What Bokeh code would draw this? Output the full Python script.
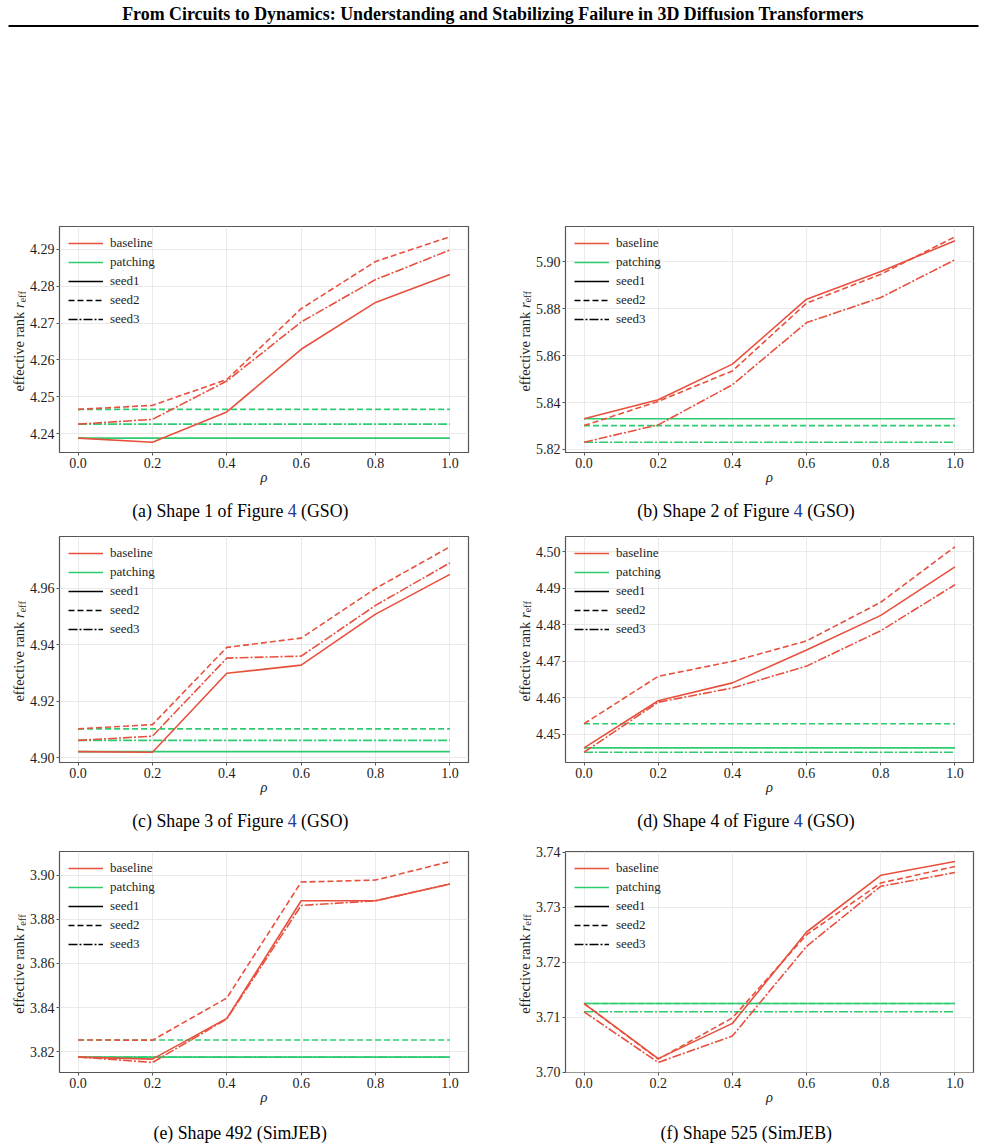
import math

from bokeh.core.properties import value
from bokeh.embed import file_html
from bokeh.layouts import column, row
from bokeh.models import FixedTicker, Legend, LegendItem, PrintfTickFormatter, Range1d
from bokeh.plotting import figure
from bokeh.resources import INLINE

# ---------------------------------------------------------------- data
RHO = [0.0, 0.2, 0.4, 0.6, 0.8, 1.0]

# (a) Shape 1 of Figure 4 (GSO)
A_BASE_SEED1 = [4.2388, 4.2377, 4.2459, 4.2629, 4.2756, 4.2832]
A_BASE_SEED2 = [4.2466, 4.2477, 4.2547, 4.2739, 4.2867, 4.2934]
A_BASE_SEED3 = [4.2426, 4.2439, 4.2543, 4.2703, 4.2818, 4.2898]
A_PATCH = [4.2388, 4.2466, 4.2426]          # seed1, seed2, seed3
A_YTICKS = [4.24, 4.25, 4.26, 4.27, 4.28, 4.29]

# (b) Shape 2 of Figure 4 (GSO)
B_BASE_SEED1 = [5.8331, 5.8412, 5.8564, 5.8841, 5.8959, 5.9090]
B_BASE_SEED2 = [5.8302, 5.8405, 5.8535, 5.8824, 5.8947, 5.9107]
B_BASE_SEED3 = [5.8231, 5.8305, 5.8476, 5.8741, 5.8848, 5.9009]
B_PATCH = [5.8331, 5.8302, 5.8231]
B_YTICKS = [5.82, 5.84, 5.86, 5.88, 5.90]

# (c) Shape 3 of Figure 4 (GSO)
C_BASE_SEED1 = [4.9021, 4.9019, 4.9299, 4.9328, 4.9509, 4.9650]
C_BASE_SEED2 = [4.9102, 4.9117, 4.9391, 4.9424, 4.9600, 4.9748]
C_BASE_SEED3 = [4.9061, 4.9076, 4.9353, 4.9360, 4.9540, 4.9691]
C_PATCH = [4.9021, 4.9102, 4.9061]
C_YTICKS = [4.90, 4.92, 4.94, 4.96]

# (d) Shape 4 of Figure 4 (GSO)
D_BASE_SEED1 = [4.4463, 4.4592, 4.4641, 4.4731, 4.4826, 4.4959]
D_BASE_SEED2 = [4.4529, 4.4659, 4.4700, 4.4756, 4.4862, 4.5014]
D_BASE_SEED3 = [4.4451, 4.4588, 4.4627, 4.4687, 4.4784, 4.4910]
D_PATCH = [4.4463, 4.4529, 4.4451]
D_YTICKS = [4.45, 4.46, 4.47, 4.48, 4.49, 4.50]

# (e) Shape 492 (SimJEB)
E_BASE_SEED1 = [3.8175, 3.8166, 3.8351, 3.8884, 3.8884, 3.8960]
E_BASE_SEED2 = [3.8253, 3.8252, 3.8443, 3.8969, 3.8978, 3.9062]
E_BASE_SEED3 = [3.8176, 3.8151, 3.8348, 3.8863, 3.8884, 3.8960]
E_PATCH = [3.8175, 3.8253, 3.8176]
E_YTICKS = [3.82, 3.84, 3.86, 3.88, 3.90]

# (f) Shape 525 (SimJEB)
F_BASE_SEED1 = [3.7125, 3.7025, 3.7089, 3.7255, 3.7358, 3.7383]
F_BASE_SEED2 = [3.7125, 3.7024, 3.7099, 3.7250, 3.7344, 3.7374]
F_BASE_SEED3 = [3.7110, 3.7018, 3.7066, 3.7229, 3.7338, 3.7363]
F_PATCH = [3.7125, 3.7125, 3.7110]
F_YTICKS = [3.70, 3.71, 3.72, 3.73, 3.74]

SEED_NAMES = ["seed1", "seed2", "seed3"]
METHOD_NAMES = ["baseline", "patching"]

PAGE_TITLE = ("From Circuits to Dynamics: Understanding and Stabilizing "
              "Failure in 3D Diffusion Transformers")
CAPTIONS = [
    ("(a) Shape 1 of Figure", "4", "(GSO)"),
    ("(b) Shape 2 of Figure", "4", "(GSO)"),
    ("(c) Shape 3 of Figure", "4", "(GSO)"),
    ("(d) Shape 4 of Figure", "4", "(GSO)"),
    ("(e) Shape 492 (SimJEB)", None, None),
    ("(f) Shape 525 (SimJEB)", None, None),
]

# ---------------------------------------------------------------- style
FONT = "Liberation Serif"
SERIF = value(FONT)
RED = "#E8503E"
GREEN = "#2ECC71"
FRAME = "#555555"
INK = "#1e1e1e"
LINK = "#23399a"
DASHES = ["solid", "6 3", "9 2 2 2"]
LW = 1.6
NAN = float("nan")


def blank(w, h, y_range=None):
    """A plain drawing surface measured in pixels (y grows downward by default)."""
    yr = y_range if y_range is not None else Range1d(h, 0)
    c = figure(width=w, height=h, x_range=Range1d(0, w), y_range=yr,
               x_axis_type=None, y_axis_type=None, title=None,
               output_backend="svg", toolbar_location=None,
               min_border_left=0, min_border_right=0,
               min_border_top=0, min_border_bottom=0)
    c.outline_line_color = None
    c.background_fill_color = "white"
    c.border_fill_color = "white"
    return c


def make_panel(base, patch, yticks, width, bl, br, bt, fh, bb=38):
    values = [v for s in base for v in s] + list(patch)
    lo, hi = min(values), max(values)
    pad = 0.05 * (hi - lo)
    p = figure(width=width, height=bt + fh + bb,
               x_range=Range1d(-0.05, 1.05), y_range=Range1d(lo - pad, hi + pad),
               title=None, output_backend="svg", toolbar_location=None,
               min_border_left=bl, min_border_right=br,
               min_border_top=bt, min_border_bottom=bb)
    p.background_fill_color = "white"
    p.border_fill_color = "white"
    p.outline_line_color = FRAME
    p.outline_line_width = 1.2

    p.xaxis.ticker = FixedTicker(ticks=RHO)
    p.xaxis.formatter = PrintfTickFormatter(format="%.1f")
    p.yaxis.ticker = FixedTicker(ticks=yticks)
    p.yaxis.formatter = PrintfTickFormatter(format="%.2f")
    p.xgrid.ticker = FixedTicker(ticks=RHO)
    p.ygrid.ticker = FixedTicker(ticks=yticks)
    p.grid.grid_line_color = "#e8e8e8"
    p.grid.grid_line_width = 0.9

    for ax in (p.xaxis, p.yaxis):
        ax.axis_line_color = None
        ax.major_tick_in = 0
        ax.major_tick_out = 3
        ax.major_tick_line_color = FRAME
        ax.minor_tick_line_color = None
        ax.major_label_text_font = FONT
        ax.major_label_text_font_size = "14px"
        ax.major_label_text_color = INK
        ax.major_label_standoff = 2
    p.xaxis.axis_label = "ρ"
    p.xaxis.axis_label_text_font = FONT
    p.xaxis.axis_label_text_font_style = "italic"
    p.xaxis.axis_label_text_font_size = "14.5px"
    p.xaxis.axis_label_text_color = INK
    p.xaxis.axis_label_standoff = -2

    patch_lines = []
    for v, dash in zip(patch, DASHES):
        r = p.line([RHO[0], RHO[-1]], [v, v], line_color=GREEN, line_width=LW, line_dash=dash)
        patch_lines.append(r)
    base_lines = []
    for series, dash in zip(base, DASHES):
        r = p.line(RHO, series, line_color=RED, line_width=LW, line_dash=dash)
        base_lines.append(r)

    # legend swatches for the seeds use neutral black (one undrawable point each)
    seed_keys = [p.line([NAN], [NAN], line_color="black", line_width=LW, line_dash=dash)
                 for dash in DASHES]
    items = [LegendItem(label=METHOD_NAMES[0], renderers=[base_lines[0]]),
             LegendItem(label=METHOD_NAMES[1], renderers=[patch_lines[0]])]
    items += [LegendItem(label=n, renderers=[k]) for n, k in zip(SEED_NAMES, seed_keys)]
    legend = Legend(items=items, location="top_left", margin=9, padding=0,
                    spacing=3, glyph_width=35, glyph_height=14, label_height=14,
                    label_standoff=7, border_line_color=None,
                    background_fill_alpha=0.0,
                    label_text_font=FONT, label_text_font_size="13px",
                    label_text_color=INK)
    p.add_layout(legend)
    return p


def make_ylabel(w, h, cx, fh):
    # inside a row this surface's frame lines up with the neighbouring plot frame,
    # so its vertical range spans that frame (0 at the bottom)
    c = blank(w, h, y_range=Range1d(0, fh))
    big, small = 14.5, 10.5
    w_main, w_space, w_r, w_sub = 80.1, 3.6, 5.6, 11.1
    total = w_main + w_space + w_r + w_sub
    y0 = fh / 2 - 2 - total / 2                  # lower end of the rotated label
    rot = dict(angle=math.pi / 2, text_align="center", text_baseline="middle",
               text_font=SERIF, text_color=INK)
    c.text(x=[cx], y=[y0 + w_main / 2], text=["effective rank"],
           text_font_size=f"{big}px", **rot)
    c.text(x=[cx], y=[y0 + w_main + w_space + w_r / 2], text=["r"],
           text_font_style="italic", text_font_size=f"{big}px", **rot)
    c.text(x=[cx + 3], y=[y0 + w_main + w_space + w_r + w_sub / 2], text=["eff"],
           text_font_size=f"{small}px", **rot)
    return c


def make_captions(h, cy, pair):
    c = blank(985, h)
    for cap, x4 in zip(pair, (291.7, 797.8)):
        head, num, tail = cap
        if num is None:
            c.text(x=[x4 - 52], y=[cy], text=[head], text_align="center",
                   text_baseline="middle", text_font=SERIF,
                   text_font_size="17.8px", text_color="black")
            continue
        c.text(x=[x4 - 8.9], y=[cy], text=[head], text_align="right",
               text_baseline="middle", text_font=SERIF, text_font_size="17.8px",
               text_color="black")
        c.text(x=[x4], y=[cy], text=[num], text_align="center",
               text_baseline="middle", text_font=SERIF, text_font_size="17.8px",
               text_color=LINK)
        c.text(x=[x4 + 8.9], y=[cy], text=[tail], text_align="left",
               text_baseline="middle", text_font=SERIF, text_font_size="17.8px",
               text_color="black")
    return c


# ---------------------------------------------------------------- header
header = blank(985, 220)
header.text(x=[492.5], y=[13], text=[PAGE_TITLE], text_align="center",
            text_baseline="middle", text_font=SERIF, text_font_style="bold",
            text_font_size="17.9px", text_color="black")
header.segment(x0=[8], y0=[25.5], x1=[978], y1=[25.5], line_color="black", line_width=2)

# ---------------------------------------------------------------- panels
LEFT_W, RIGHT_W = 464, 453


def panel_row(left, right, bt_left, fh_left, bt_right, fh_right):
    h = bt_left + fh_left + 38
    pl = make_panel(left[0], left[1], left[2], LEFT_W, 30, 22, bt_left, fh_left)
    pr = make_panel(right[0], right[1], right[2], RIGHT_W, 30, 12, bt_right, fh_right)
    yl = make_ylabel(26, h, 18.5, fh_left)
    yr = make_ylabel(42, h, 34, fh_left)
    return row(yl, pl, yr, pr)


row1 = panel_row(((A_BASE_SEED1, A_BASE_SEED2, A_BASE_SEED3), A_PATCH, A_YTICKS),
                 ((B_BASE_SEED1, B_BASE_SEED2, B_BASE_SEED3), B_PATCH, B_YTICKS),
                 6, 226, 6, 226)
row2 = panel_row(((C_BASE_SEED1, C_BASE_SEED2, C_BASE_SEED3), C_PATCH, C_YTICKS),
                 ((D_BASE_SEED1, D_BASE_SEED2, D_BASE_SEED3), D_PATCH, D_YTICKS),
                 6, 226, 6, 226)
row3 = panel_row(((E_BASE_SEED1, E_BASE_SEED2, E_BASE_SEED3), E_PATCH, E_YTICKS),
                 ((F_BASE_SEED1, F_BASE_SEED2, F_BASE_SEED3), F_PATCH, F_YTICKS),
                 7, 225, 11, 221)

cap1 = make_captions(40, 20, CAPTIONS[0:2])
cap2 = make_captions(40, 20, CAPTIONS[2:4])
cap3 = make_captions(36, 22, CAPTIONS[4:6])

page = column(header, row1, cap1, row2, cap2, row3, cap3)

with open("out.html", "w") as fh:
    fh.write(file_html(page, INLINE))
